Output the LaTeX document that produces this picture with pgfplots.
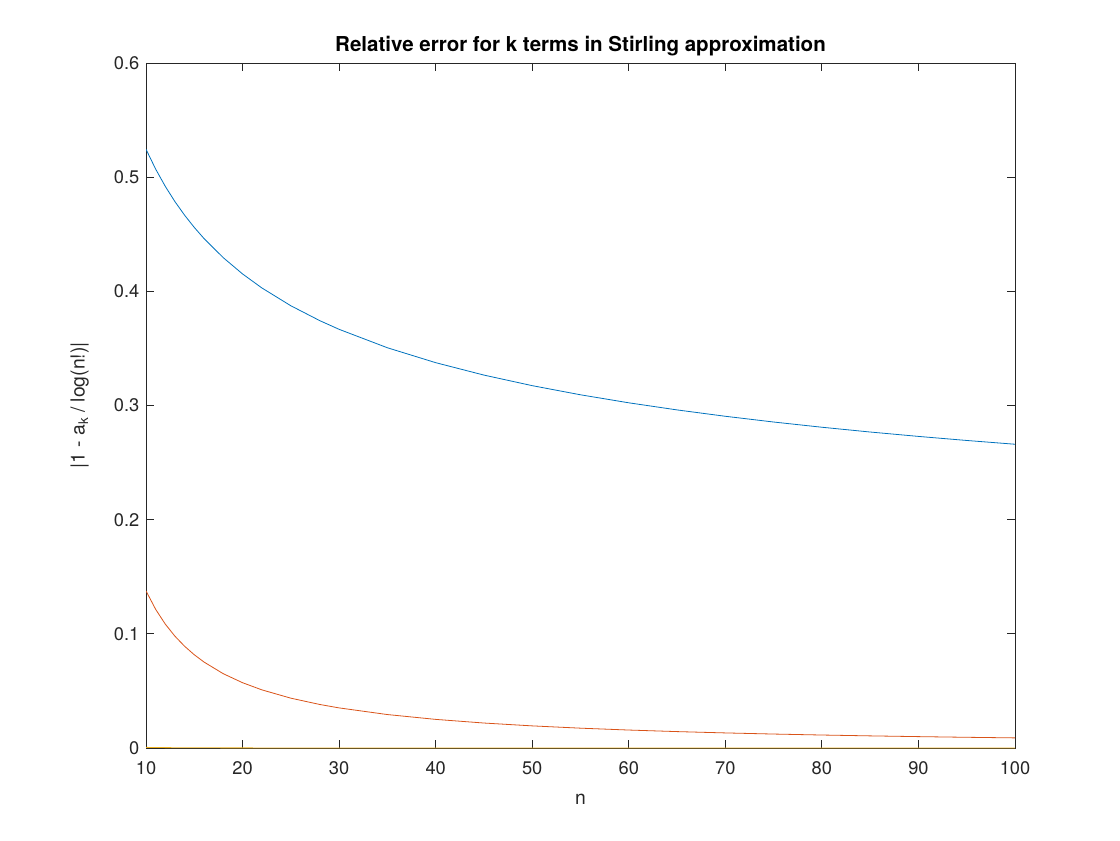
\documentclass[border=0pt]{standalone}
\usepackage{fontspec}
\setmainfont{TeX Gyre Heros}
\usepackage{pgfplots}
\pgfplotsset{compat=1.18}

\definecolor{mblue}{rgb}{0,0.447,0.741}
\definecolor{morange}{rgb}{0.85,0.325,0.098}
\definecolor{myellow}{rgb}{0.929,0.694,0.125}
\definecolor{axgray}{gray}{0.15}

\begin{document}
\begin{tikzpicture}
\begin{axis}[
    scale only axis,
    width=651.75pt, height=513.75pt,
    xmin=10, xmax=100, ymin=0, ymax=0.6,
    xtick={10,20,...,100},
    ytick={0,0.1,...,0.6},
    tick align=inside,
    major tick length=6pt,
    axis line style={axgray, line width=0.6pt},
    tick style={axgray, line width=0.6pt},
    every tick label/.append style={font=\fontsize{13.7}{16}\selectfont, text=axgray},
    xticklabel style={yshift=-7pt},
    yticklabel style={xshift=-1.5pt},
    /pgf/number format/assume math mode=true,
    scaled y ticks=false,
    xlabel={n}, ylabel={|1 - a\raisebox{-0.35ex}{\fontsize{10}{12}\selectfont k} / log(n!)|},
    label style={font=\fontsize{14.5}{17}\selectfont, text=axgray},
    xlabel style={yshift=-7pt},
    ylabel style={yshift=12pt},
    title={Relative error for k terms in Stirling approximation},
    title style={font=\bfseries\fontsize{15.4}{18}\selectfont, yshift=-4.5pt},
    clip=true,
]
\coordinate (SW) at (rel axis cs:0,0);
\coordinate (NE) at (rel axis cs:1,1);
% k = 1
\addplot[mblue, line width=0.6pt] coordinates {
    (10,0.524445) (11,0.50705) (12,0.491898) (13,0.478543) (14,0.466654)
    (15,0.455979) (16,0.446323) (18,0.429484) (20,0.41523) (22,0.402956)
    (25,0.38736) (28,0.374312) (30,0.366707) (35,0.350579) (40,0.337512)
    (45,0.326631) (50,0.317377) (55,0.309373) (60,0.302354) (65,0.29613)
    (70,0.290557) (75,0.285526) (80,0.280952) (85,0.276768) (90,0.27292)
    (95,0.269364) (100,0.266063)
};
% k = 2
\addplot[morange, line width=0.6pt] coordinates {
    (10,0.137613) (11,0.12144) (12,0.108486) (13,0.097898) (14,0.089095)
    (15,0.081669) (16,0.075328) (18,0.065084) (20,0.057185) (22,0.050922)
    (25,0.043647) (28,0.038121) (30,0.035124) (35,0.029294) (40,0.025067)
    (45,0.021871) (50,0.019374) (55,0.017372) (60,0.015732) (65,0.014366)
    (70,0.013211) (75,0.012223) (80,0.011368) (85,0.010621) (90,0.009963)
    (95,0.00938) (100,0.008859)
};
% k = 3
\addplot[myellow, line width=0.6pt] coordinates {
    (10,0.000552) (11,0.000433) (12,0.000347) (13,0.000284) (14,0.000236)
    (15,0.000199) (16,0.00017) (18,0.000127) (20,0.0000984) (25,0.0000575)
    (30,0.0000372) (40,0.0000189) (50,0.0000112) (60,0.0000074)
    (70,0.0000052) (80,0.0000038) (90,0.0000029) (100,0.0000023)
};
\end{axis}
\pgfresetboundingbox
\path ([shift={(-109.5pt,-69pt)}]SW) rectangle ([shift={(78.75pt,47.25pt)}]NE);
\end{tikzpicture}
\end{document}
